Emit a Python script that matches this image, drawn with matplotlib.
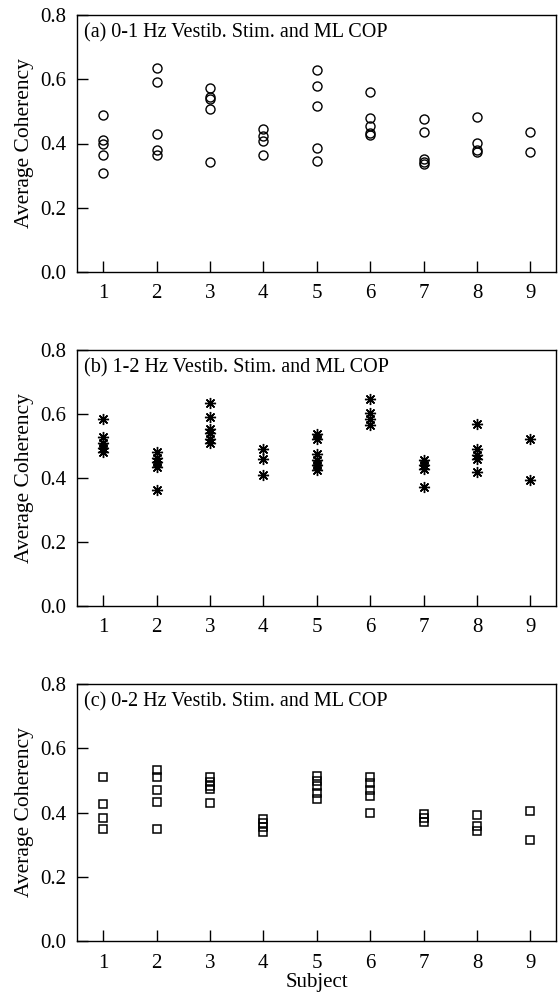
import matplotlib
matplotlib.use("Agg")
import matplotlib.pyplot as plt

plt.rcParams['font.family'] = ['Liberation Serif', 'DejaVu Serif']

subjects = [1, 2, 3, 4, 5, 6, 7, 8, 9]

# (a) 0-1 Hz
coh_a = [
    [0.489, 0.411, 0.398, 0.364, 0.307],
    [0.634, 0.592, 0.429, 0.380, 0.364],
    [0.573, 0.544, 0.537, 0.507, 0.341],
    [0.444, 0.423, 0.408, 0.363],
    [0.628, 0.578, 0.518, 0.386, 0.347],
    [0.560, 0.479, 0.454, 0.432, 0.426],
    [0.477, 0.436, 0.353, 0.342, 0.336],
    [0.484, 0.403, 0.379, 0.375],
    [0.435, 0.375],
]

# (b) 1-2 Hz
coh_b = [
    [0.585, 0.527, 0.510, 0.493, 0.482],
    [0.480, 0.463, 0.449, 0.435, 0.362],
    [0.635, 0.592, 0.553, 0.540, 0.522, 0.510],
    [0.490, 0.460, 0.408],
    [0.536, 0.522, 0.474, 0.456, 0.440, 0.425],
    [0.646, 0.602, 0.584, 0.567],
    [0.456, 0.440, 0.429, 0.373],
    [0.568, 0.491, 0.473, 0.460, 0.418],
    [0.522, 0.394],
]

# (c) 0-2 Hz
coh_c = [
    [0.509, 0.427, 0.382, 0.350],
    [0.531, 0.510, 0.469, 0.434, 0.350],
    [0.512, 0.494, 0.484, 0.474, 0.429],
    [0.379, 0.367, 0.354, 0.339],
    [0.515, 0.499, 0.484, 0.462, 0.443],
    [0.510, 0.491, 0.471, 0.450, 0.399],
    [0.396, 0.382, 0.371],
    [0.393, 0.359, 0.343],
    [0.405, 0.315],
]

titles = ["(a) 0-1 Hz Vestib. Stim. and ML COP",
          "(b) 1-2 Hz Vestib. Stim. and ML COP",
          "(c) 0-2 Hz Vestib. Stim. and ML COP"]

fig = plt.figure(figsize=(5.58, 9.93), dpi=100)
W, H = 558, 993
boxes = [(15, 272), (350, 606), (684, 941)]
data = [coh_a, coh_b, coh_c]
styles = [dict(marker='o', ms=6.5, mfc='none', mec='black', mew=1.0),
          dict(marker=(8, 2, 0), ms=8, mfc='none', mec='black', mew=1.0),
          dict(marker='s', ms=6, mfc='none', mec='black', mew=1.1)]

for i in range(3):
    top, bot = boxes[i]
    ax = fig.add_axes([77 / W, 1 - bot / H, (556 - 77) / W, (bot - top) / H])
    for s, vals in zip(subjects, data[i]):
        ax.plot([s] * len(vals), vals, linestyle='none', **styles[i])
    ax.set_xlim(0.51, 9.48)
    ax.set_ylim(0, 0.8)
    ax.set_xticks(subjects)
    ax.set_yticks([0.0, 0.2, 0.4, 0.6, 0.8])
    ax.set_yticklabels(["0.0", "0.2", "0.4", "0.6", "0.8"])
    ax.tick_params(direction='in', length=8, width=1, labelsize=15)
    ax.tick_params(axis='x', pad=9)
    ax.tick_params(axis='y', pad=8)
    ax.set_ylabel("Average Coherency", fontsize=15.5, labelpad=4)
    ax.text(0.015, 0.93, titles[i], transform=ax.transAxes, fontsize=14.5,
            va='center', ha='left')
    for sp in ax.spines.values():
        sp.set_linewidth(1.0)
    if i == 2:
        ax.set_xlabel("Subject", fontsize=15, labelpad=0)

fig.savefig("out.png", dpi=100)
